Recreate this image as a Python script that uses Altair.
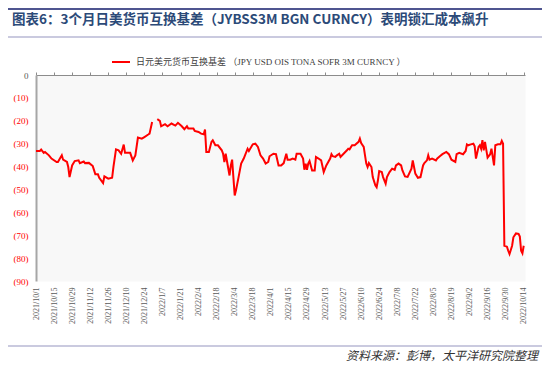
import altair as alt
import pandas as pd

title_text = "图表6：3个月日美货币互换基差（JYBSS3M BGN CURNCY）表明锁汇成本飙升"
legend_text = "日元美元货币互换基差 （JPY USD OIS TONA SOFR 3M CURNCY ）"
source_text = "资料来源：彭博，太平洋研究院整理"

tick_labels = ["2021/10/1", "2021/10/15", "2021/10/29", "2021/11/12", "2021/11/26",
               "2021/12/10", "2021/12/24", "2022/1/7", "2022/1/21", "2022/2/4",
               "2022/2/18", "2022/3/4", "2022/3/18", "2022/4/1", "2022/4/15",
               "2022/4/29", "2022/5/13", "2022/5/27", "2022/6/10", "2022/6/24",
               "2022/7/8", "2022/7/22", "2022/8/5", "2022/8/19", "2022/9/2",
               "2022/9/16", "2022/9/30", "2022/10/14"]
y_ticks = [0, -10, -20, -30, -40, -50, -60, -70, -80, -90]

seg1_dates = ["2021/10/01", "2021/10/04", "2021/10/05", "2021/10/07", "2021/10/08", "2021/10/11",
              "2021/10/13", "2021/10/17", "2021/10/18", "2021/10/21", "2021/10/22", "2021/10/25",
              "2021/10/26", "2021/10/27", "2021/10/29", "2021/10/31", "2021/11/03", "2021/11/04",
              "2021/11/07", "2021/11/08", "2021/11/11", "2021/11/14", "2021/11/16", "2021/11/18",
              "2021/11/19", "2021/11/22", "2021/11/23", "2021/11/26", "2021/11/29", "2021/11/30",
              "2021/12/02", "2021/12/04", "2021/12/06", "2021/12/08", "2021/12/09", "2021/12/13",
              "2021/12/15", "2021/12/17", "2021/12/19", "2021/12/22", "2021/12/24", "2021/12/27",
              "2021/12/28", "2021/12/30"]
seg1_values = [-33.2, -33.2, -32.6, -34.0, -33.6, -35.1,
               -36.5, -38.0, -38.0, -35.1, -37.0, -38.0,
               -40.2, -44.6, -39.5, -37.6, -37.3, -38.5,
               -37.8, -38.5, -38.4, -39.8, -43.4, -43.4,
               -44.9, -47.2, -44.3, -45.3, -44.9, -40.2,
               -32.5, -32.9, -34.4, -30.4, -34.0, -34.0,
               -37.3, -35.1, -27.3, -27.8, -27.1, -26.0,
               -25.6, -20.5]

seg2_dates = ["2022/01/03", "2022/01/05", "2022/01/06", "2022/01/09", "2022/01/11", "2022/01/14",
              "2022/01/17", "2022/01/19", "2022/01/22", "2022/01/24", "2022/01/26", "2022/01/27",
              "2022/01/31", "2022/02/01", "2022/02/04", "2022/02/06", "2022/02/08", "2022/02/09",
              "2022/02/10", "2022/02/12", "2022/02/14", "2022/02/15", "2022/02/17", "2022/02/19",
              "2022/02/22", "2022/02/23", "2022/02/24", "2022/02/25", "2022/02/28", "2022/03/01",
              "2022/03/02", "2022/03/04", "2022/03/05", "2022/03/07", "2022/03/09", "2022/03/11",
              "2022/03/14", "2022/03/15", "2022/03/18", "2022/03/20", "2022/03/22", "2022/03/24",
              "2022/03/26", "2022/03/28", "2022/03/30", "2022/03/31", "2022/04/03", "2022/04/05",
              "2022/04/07", "2022/04/09", "2022/04/11", "2022/04/13", "2022/04/14", "2022/04/16",
              "2022/04/18", "2022/04/20", "2022/04/21", "2022/04/24", "2022/04/26", "2022/04/27",
              "2022/04/28", "2022/04/29", "2022/04/30", "2022/05/01", "2022/05/03", "2022/05/05",
              "2022/05/06", "2022/05/08", "2022/05/10", "2022/05/12", "2022/05/14", "2022/05/17",
              "2022/05/18", "2022/05/19", "2022/05/21", "2022/05/22", "2022/05/24", "2022/05/25",
              "2022/05/27", "2022/05/30", "2022/05/31", "2022/06/01", "2022/06/03", "2022/06/05",
              "2022/06/08", "2022/06/09", "2022/06/10", "2022/06/12", "2022/06/13", "2022/06/14",
              "2022/06/15", "2022/06/16", "2022/06/18", "2022/06/19", "2022/06/21", "2022/06/22",
              "2022/06/23", "2022/06/24", "2022/06/26", "2022/06/27", "2022/06/29", "2022/06/30",
              "2022/07/02", "2022/07/04", "2022/07/06", "2022/07/07", "2022/07/09", "2022/07/11",
              "2022/07/12", "2022/07/14", "2022/07/16", "2022/07/19", "2022/07/20", "2022/07/21",
              "2022/07/22", "2022/07/24", "2022/07/26", "2022/07/28", "2022/07/29", "2022/07/31",
              "2022/08/01", "2022/08/02", "2022/08/04", "2022/08/07", "2022/08/08", "2022/08/10",
              "2022/08/12", "2022/08/15", "2022/08/17", "2022/08/19", "2022/08/22", "2022/08/23",
              "2022/08/25", "2022/08/28", "2022/08/30", "2022/08/31", "2022/09/01", "2022/09/03",
              "2022/09/05", "2022/09/06", "2022/09/07", "2022/09/09", "2022/09/10", "2022/09/11",
              "2022/09/12", "2022/09/13", "2022/09/14", "2022/09/16", "2022/09/18", "2022/09/19",
              "2022/09/21", "2022/09/22", "2022/09/24", "2022/09/26", "2022/09/27", "2022/09/28",
              "2022/09/29", "2022/10/01", "2022/10/02", "2022/10/03", "2022/10/05", "2022/10/06",
              "2022/10/08", "2022/10/10", "2022/10/11", "2022/10/12", "2022/10/13", "2022/10/14"]
seg2_values = [-19.3, -20.0, -22.4, -21.5, -22.4, -21.2,
               -22.1, -20.9, -22.4, -23.7, -22.4, -23.4,
               -23.4, -24.4, -24.9, -25.6, -25.9, -23.8,
               -33.6, -33.6, -29.2, -28.5, -30.7, -30.7,
               -32.9, -34.4, -38.0, -34.4, -43.9, -39.5,
               -37.0, -52.6, -50.4, -44.6, -38.7, -36.5,
               -32.2, -33.2, -30.3, -30.0, -31.4, -35.1,
               -36.5, -38.7, -38.0, -35.5, -34.4, -34.6,
               -39.5, -39.5, -38.5, -34.4, -37.0, -37.0,
               -36.5, -37.0, -34.4, -34.4, -36.5, -41.4,
               -38.7, -41.4, -38.7, -37.6, -41.7, -41.7,
               -35.8, -36.5, -37.3, -42.4, -39.5, -36.5,
               -34.6, -35.5, -35.8, -35.2, -34.4, -35.8,
               -34.6, -32.9, -32.2, -32.5, -30.7, -30.7,
               -29.2, -27.8, -29.7, -31.4, -35.1, -38.7,
               -40.2, -38.5, -40.2, -44.6, -48.2, -49.0,
               -46.1, -42.0, -42.4, -44.6, -47.5, -44.6,
               -42.4, -40.9, -41.4, -39.5, -38.7, -39.5,
               -41.7, -44.3, -44.5, -40.9, -37.3, -40.2,
               -43.1, -44.9, -44.6, -39.5, -38.5, -37.3,
               -35.1, -37.0, -36.5, -37.3, -36.5, -35.5,
               -34.6, -33.6, -34.6, -37.0, -38.0, -34.6,
               -34.0, -34.6, -33.2, -30.3, -30.7, -30.3,
               -30.0, -31.1, -36.5, -31.4, -30.7, -32.2,
               -28.5, -32.9, -29.2, -36.1, -34.6, -32.2,
               -39.5, -30.7, -30.3, -30.3, -28.8, -30.0,
               -74.6, -75.0, -76.8, -78.2, -74.6, -70.9,
               -69.2, -69.4, -70.6, -76.8, -77.9, -74.6]

df = pd.DataFrame({
    "date": seg1_dates + seg2_dates,
    "value": seg1_values + seg2_values,
    "seg": ["a"] * len(seg1_dates) + ["b"] * len(seg2_dates),
})
one = pd.DataFrame({"k": [0]})
ticks_df = pd.DataFrame({"date": [t for t in tick_labels]})

tick_dt = [alt.DateTime(year=int(a), month=int(b), date=int(c))
           for a, b, c in (t.split("/") for t in tick_labels)]

x_scale = alt.Scale(domain=[alt.DateTime(year=2021, month=10, date=1),
                            alt.DateTime(year=2022, month=10, date=15)])
y_scale = alt.Scale(domain=[-90, 0], nice=False)

line = alt.Chart(df).mark_line(color="#ff0000", strokeWidth=2).encode(
    x=alt.X("date:T", scale=x_scale,
            axis=alt.Axis(orient="bottom", values=tick_dt, format="%Y/%-m/%-d",
                          labelAngle=270, labelAlign="right", labelBaseline="middle",
                          domain=False, ticks=False, grid=False, title=None,
                          labelPadding=6, labelFont="Liberation Serif", labelFontSize=8,
                          labelColor="#595959", labelOverlap=False)),
    y=alt.Y("value:Q", scale=y_scale,
            axis=alt.Axis(values=y_ticks, grid=False, ticks=False, title=None,
                          domainColor="#a6a6a6", domainWidth=2,
                          labelExpr="datum.value == 0 ? '0' : '(' + format(-datum.value, 'd') + ')'",
                          labelColor={"condition": {"test": "datum.value < 0", "value": "#ff0000"},
                                      "value": "#595959"},
                          labelFont="Liberation Serif", labelFontSize=9, labelPadding=8)),
    detail="seg:N",
)

top_axis = alt.Chart(ticks_df).mark_rule(opacity=0).encode(
    x=alt.X("date:T", scale=x_scale,
            axis=alt.Axis(orient="top", values=tick_dt, labels=False, grid=False, title=None,
                          domainColor="#8c8c8c", tickColor="#8c8c8c", tickSize=3)),
)

top_rule = alt.Chart(one).mark_rule(color="#4f5590", strokeWidth=2).encode(
    x=alt.value(-28), x2=alt.value(506), y=alt.value(-66))
sep_rule = alt.Chart(one).mark_rule(color="#b8b8d4", strokeWidth=1.5).encode(
    x=alt.value(-28), x2=alt.value(506), y=alt.value(-38))
bottom_rule = alt.Chart(one).mark_rule(color="#b8b8d4", strokeWidth=1.5).encode(
    x=alt.value(-28), x2=alt.value(506), y=alt.value(271))

title = alt.Chart(one).mark_text(text=title_text, align="left", baseline="middle",
                                 font="Noto Sans CJK SC", fontSize=13.5, fontWeight="bold",
                                 color="#2c4a78").encode(x=alt.value(-24), y=alt.value(-55))
legend_line = alt.Chart(one).mark_rule(color="#ff0000", strokeWidth=2).encode(
    x=alt.value(76), x2=alt.value(94), y=alt.value(-13))
legend_label = alt.Chart(one).mark_text(text=legend_text, align="left", baseline="middle",
                                        font="Liberation Serif, Noto Sans CJK SC", fontSize=9,
                                        color="#404040").encode(x=alt.value(100), y=alt.value(-13))
source = alt.Chart(one).mark_text(text=source_text, align="right", baseline="middle",
                                  font="Noto Sans CJK SC", fontSize=12, fontStyle="italic",
                                  color="#333333").encode(x=alt.value(502), y=alt.value(281))

chart = alt.layer(
    line, top_axis, top_rule, sep_rule, bottom_rule, title, legend_line, legend_label, source
).resolve_axis(x="independent").properties(
    width=489, height=206,
    padding={"left": 28, "top": 67, "right": 17, "bottom": 84},
    autosize=alt.AutoSizeParams(type="none"),
).configure_view(fill="#f8f8f8", stroke="transparent")

chart.save("out.html", embed_options={"renderer": "svg", "actions": False})
